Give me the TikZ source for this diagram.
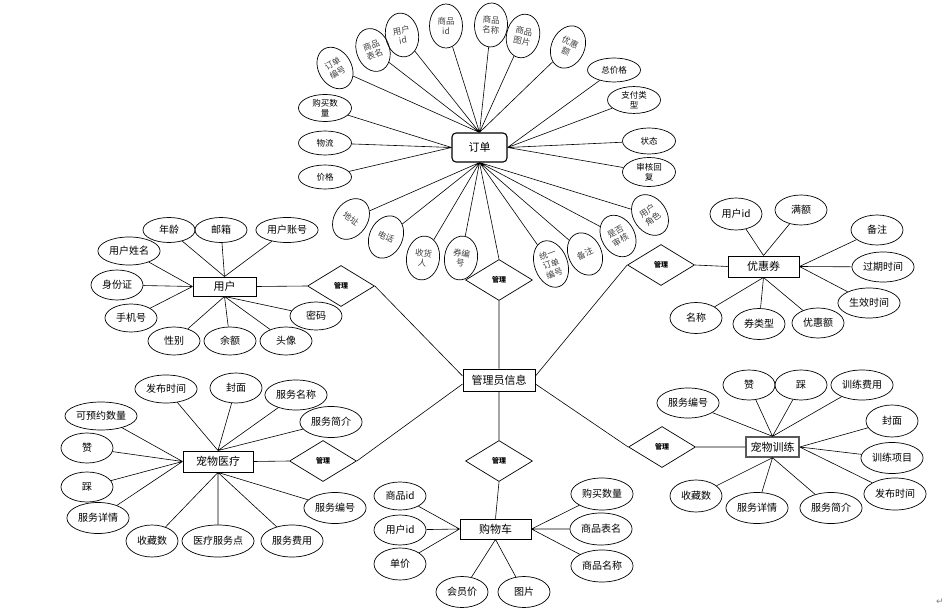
\documentclass[tikz,border=0pt]{standalone}
\usepackage{fontspec}
\setmainfont{Noto Sans CJK SC}
\newfontfamily\markfont{DejaVu Sans}
\usetikzlibrary{shapes,positioning}

\tikzset{
  attr/.style={draw, ellipse, line width=0.7pt, inner sep=2pt, minimum width=52pt, minimum height=28pt, font=\fontsize{10}{11}\selectfont},
  sattr/.style={draw, ellipse, line width=0.7pt, inner sep=1pt, minimum width=53pt, minimum height=26pt, align=center, font=\fontsize{8.5}{9.5}\selectfont},
  fan/.style={draw, ellipse, line width=0.7pt, inner sep=0pt, minimum width=33pt, minimum height=44pt, align=center, text=black!75, font=\fontsize{8.5}{10}\selectfont},
  ent/.style={draw, line width=0.9pt, inner sep=2pt, font=\fontsize{11}{12}\selectfont},
  rel/.style={draw, diamond, line width=0.7pt, inner sep=0pt, minimum width=67pt, minimum height=41pt, font=\bfseries\fontsize{7}{8}\selectfont},
  link/.style={line width=0.6pt},
}

\begin{document}
\begin{tikzpicture}[x=1pt,y=-1pt]
    \useasboundingbox (0,0) rectangle (952,612);

    % entities
    \node[ent, rounded corners=4pt, line width=1.1pt, minimum width=55pt, minimum height=29pt] (ord) at (479.5,147.5) {订单};
    \node[ent, minimum width=72pt, minimum height=22pt] (mgr) at (499,380) {管理员信息};
    \node[ent, minimum width=63pt, minimum height=19pt] (usr) at (224.5,286.5) {用户};
    \node[ent, minimum width=71pt, minimum height=21pt] (cpn) at (763.5,266.5) {优惠券};
    \node[ent, minimum width=70pt, minimum height=21pt] (med) at (218,461.5) {宠物医疗};
    \node[ent, draw=black!65, line width=1.4pt, minimum width=53pt, minimum height=20pt] (trn) at (772.5,447) {宠物训练};
    \node[ent, minimum width=71pt, minimum height=20pt] (cart) at (495.5,529) {购物车};

    % relations
    \node[rel] (d1) at (499,280) {管理};
    \node[rel] (du) at (341,286) {管理};
    \node[rel] (dc) at (661,265) {管理};
    \node[rel] (dm) at (323,461) {管理};
    \node[rel] (dt) at (662,447) {管理};
    \node[rel] (d3) at (499,461) {管理};

    % order attributes
    \node[fan, rotate=30] (o1) at (335,68) {订单\\编号};
    \node[fan, rotate=20] (o2) at (373,50) {商品\\表名};
    \node[fan, rotate=10] (o3) at (402,35) {用户\\id};
    \node[fan] (o4) at (446,26) {商品\\id};
    \node[fan, rotate=-3] (o5) at (491,25) {商品\\名称};
    \node[fan, rotate=-12] (o6) at (523,36) {商品\\图片};
    \node[fan, rotate=-25] (o7) at (568,47) {优惠\\额};
    \node[sattr, minimum height=24pt] (o8) at (614,70) {总价格};
    \node[sattr] (o9) at (634,100) {支付类\\型};
    \node[sattr] (o10) at (325,108) {购买数\\量};
    \node[sattr, minimum height=24pt] (o11) at (325,143) {物流};
    \node[sattr, minimum height=24pt] (o12) at (325,177) {价格};
    \node[sattr] (o13) at (649,141) {状态};
    \node[sattr, minimum height=29pt] (o14) at (649,172) {审核回\\复};
    \node[fan, rotate=-35] (o15) at (351,219) {地址};
    \node[fan, rotate=-25] (o16) at (386,237) {电话};
    \node[fan, rotate=-8] (o17) at (423,258) {收货\\人};
    \node[fan, rotate=-8] (o18) at (461,258) {券编\\号};
    \node[fan, rotate=20, minimum height=48pt] (o19) at (551,264) {统一\\订单\\编号};
    \node[fan, rotate=25] (o20) at (585,254) {备注};
    \node[fan, rotate=30] (o21) at (618,236) {是否\\审核};
    \node[fan, rotate=35] (o22) at (650,215) {用户\\角色};

    % user attributes
    \node[attr, minimum height=25pt] (u1) at (169,230) {年龄};
    \node[attr, minimum height=25pt] (u2) at (221,230) {邮箱};
    \node[attr, minimum height=25pt] (u3) at (287,230) {用户账号};
    \node[attr] (u4) at (129,251) {用户姓名};
    \node[attr, minimum height=30pt] (u5) at (117,285) {身份证};
    \node[attr] (u6) at (131,318) {手机号};
    \node[attr] (u7) at (174,341) {性别};
    \node[attr] (u8) at (230,341) {余额};
    \node[attr] (u9) at (286,341) {头像};
    \node[attr] (u10) at (316,316) {密码};

    % coupon attributes
    \node[attr, minimum height=32pt] (c1) at (736,214) {用户id};
    \node[attr, minimum height=30pt] (c2) at (801,210) {满额};
    \node[attr, minimum height=30pt] (c3) at (877,230) {备注};
    \node[attr, minimum height=30pt] (c4) at (883,267) {过期时间};
    \node[attr, minimum height=30pt] (c5) at (869,303) {生效时间};
    \node[attr, minimum height=31pt] (c6) at (696,318) {名称};
    \node[attr, minimum height=31pt] (c7) at (759,324) {券类型};
    \node[attr, minimum height=30pt] (c8) at (818,323) {优惠额};

    % medical attributes
    \node[attr] (m1) at (166,389) {发布时间};
    \node[attr, minimum height=30pt] (m2) at (236,388) {封面};
    \node[attr, minimum height=30pt] (m3) at (296,395) {服务名称};
    \node[attr, minimum height=31pt] (m4) at (331,422) {服务简介};
    \node[attr, inner sep=0.5pt] (m5) at (101,416) {可预约数量};
    \node[attr, minimum height=30pt] (m6) at (87,448) {赞};
    \node[attr, minimum height=30pt] (m7) at (87,487) {踩};
    \node[attr, minimum height=31pt] (m8) at (98,518) {服务详情};
    \node[attr, minimum height=32pt] (m9) at (152,541) {收藏数};
    \node[attr, minimum height=32pt, inner sep=0.5pt] (m10) at (218,541) {医疗服务点};
    \node[attr, minimum height=32pt] (m11) at (292,541) {服务费用};
    \node[attr, minimum height=31pt] (m12) at (335,508) {服务编号};

    % training attributes
    \node[attr, minimum height=30pt] (t1) at (688,403) {服务编号};
    \node[attr, minimum height=30pt] (t2) at (749,385) {赞};
    \node[attr, minimum height=30pt] (t3) at (801,385) {踩};
    \node[attr, minimum height=30pt] (t4) at (862,385) {训练费用};
    \node[attr, minimum height=32pt] (t5) at (892,421) {封面};
    \node[attr, minimum height=31pt] (t6) at (892,458) {训练项目};
    \node[attr, minimum height=32pt] (t7) at (895,494) {发布时间};
    \node[attr, minimum height=31pt] (t8) at (831,508) {服务简介};
    \node[attr, minimum height=31pt] (t9) at (757,508) {服务详情};
    \node[attr, minimum height=32pt] (t10) at (696,496) {收藏数};

    % cart attributes
    \node[attr] (s1) at (400,496) {商品id};
    \node[attr, minimum height=30pt] (s2) at (400,530) {用户id};
    \node[attr, minimum height=32pt] (s3) at (400,564) {单价};
    \node[attr, minimum height=31pt] (s4) at (462,592) {会员价};
    \node[attr, minimum height=31pt] (s5) at (524,592) {图片};
    \node[attr, minimum height=32pt] (s6) at (602,494) {购买数量};
    \node[attr, minimum height=32pt] (s7) at (601,529) {商品表名};
    \node[attr, minimum height=32pt] (s8) at (602,566) {商品名称};

    % order links
    \draw[link] (o1) -- (ord.north) (o2) -- (ord.north) (o3) -- (ord.north) (o4) -- (ord.north)
        (o5) -- (ord.north) (o6) -- (ord.north) (o7) -- (ord.north);
    \draw[link] (o10) -- (ord.west) (o11) -- (ord.west) (o12) -- (ord.west);
    \draw[link] (o8) -- (ord.east) (o9) -- (ord.east) (o13) -- (ord.east) (o14) -- (ord.east);
    \draw[link] (o15) -- (ord.south) (o16) -- (ord.south) (o17) -- (ord.south) (o18) -- (ord.south)
        (o19) -- (ord.south) (o20) -- (ord.south) (o21) -- (ord.south) (o22) -- (ord.south);
    \draw[link] (ord.south) -- (d1.north) (d1.south) -- (mgr.north);

    % user links
    \draw[link] (u1) -- (usr.north) (u2) -- (usr.north) (u3) -- (usr.north);
    \draw[link] (u4) -- (usr.west) (u5) -- (usr.west) (u6) -- (usr.west);
    \draw[link] (u7) -- (usr.south) (u8) -- (usr.south) (u9) -- (usr.south) (u10) -- (usr.south);
    \draw[link] (usr.east) -- (du.west) (du.east) -- ([yshift=4pt]mgr.west);

    % coupon links
    \draw[link] (c1) -- (cpn.north) (c2) -- (cpn.north);
    \draw[link] (c3) -- (cpn.east) (c4) -- (cpn.east) (c5) -- (cpn.east);
    \draw[link] (c6) -- (cpn.south) (c7) -- (cpn.south) (c8) -- (cpn.south);
    \draw[link] (cpn.west) -- (dc.east) (dc.west) -- ([yshift=4pt]mgr.east);

    % medical links
    \draw[link] (m1) -- (med.north) (m2) -- (med.north) (m3) -- (med.north) (m4) -- (med.north);
    \draw[link] (m5) -- (med.west) (m6) -- (med.west) (m7) -- (med.west) (m8) -- (med.west);
    \draw[link] (m9) -- (med.south) (m10) -- (med.south) (m11) -- (med.south) (m12) -- (med.south);
    \draw[link] (med.east) -- (dm.west) (dm.east) -- ([yshift=-4pt]mgr.west);

    % training links
    \draw[link] (t1) -- (trn.north) (t2) -- (trn.north) (t3) -- (trn.north) (t4) -- (trn.north);
    \draw[link] (t5) -- (trn.east) (t6) -- (trn.east) (t7) -- (trn.east);
    \draw[link] (t8) -- (trn.south) (t9) -- (trn.south) (t10) -- (trn.south);
    \draw[link] (trn.west) -- (dt.east) (dt.west) -- ([yshift=-4pt]mgr.east);

    % cart links
    \draw[link] (mgr.south) -- (d3.north) (d3.south) -- (cart.north);
    \draw[link] (s1) -- (cart.west) (s2) -- (cart.west) (s3) -- (cart.west);
    \draw[link] (s4) -- (cart.south) (s5) -- (cart.south);
    \draw[link] (s6) -- (cart.east) (s7) -- (cart.east) (s8) -- (cart.east);

    \node[text=black!50, font=\markfont\fontsize{9}{10}\selectfont] (mark) at (940,602) {↵};
\end{tikzpicture}
\end{document}
